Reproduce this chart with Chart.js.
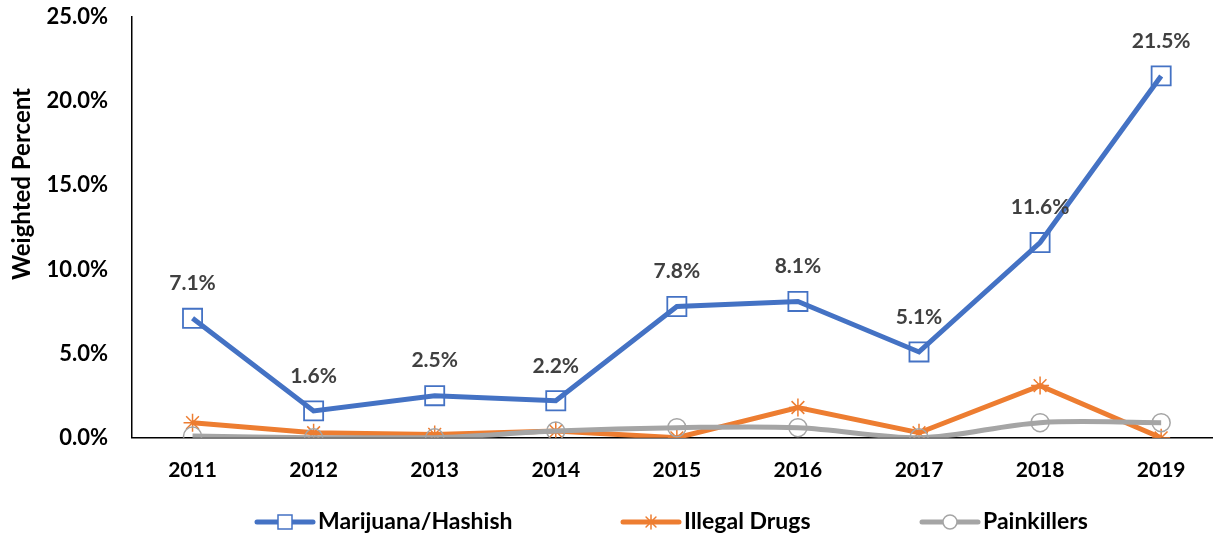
<!DOCTYPE html>
<html><head><meta charset="utf-8">
<script src="https://cdn.jsdelivr.net/npm/chart.js@4.4.0/dist/chart.umd.min.js"></script>
<style>html,body{margin:0;padding:0;background:#fff;overflow:hidden}#wrap{width:1237px;height:536px}</style>
</head><body><div id="wrap"><canvas id="c" width="1237" height="536"></canvas></div>
<script>
const years = ['2011','2012','2013','2014','2015','2016','2017','2018','2019'];
const marijuana = [7.1, 1.6, 2.5, 2.2, 7.8, 8.1, 5.1, 11.6, 21.5];
const illegalDrugs = [0.9, 0.3, 0.2, 0.4, 0.0, 1.8, 0.3, 3.1, 0.0];
const painkillers = [0.1, 0.0, 0.0, 0.4, 0.6, 0.6, 0.0, 0.9, 0.9];
const seriesNames = ['Marijuana/Hashish', 'Illegal Drugs', 'Painkillers'];
const yAxisTitle = 'Weighted Percent';

const FONT = 'Lato';
const BLUE = '#4472C4', ORANGE = '#ED7D31', GRAY = '#A5A5A5';

const dataLabels = {
  id: 'dataLabels',
  afterDatasetsDraw(chart) {
    const ctx = chart.ctx;
    const meta = chart.getDatasetMeta(0);
    ctx.save();
    ctx.font = 'bold 21px ' + FONT;
    ctx.fillStyle = '#404040';
    ctx.textAlign = 'center';
    ctx.textBaseline = 'middle';
    meta.data.forEach((p, i) => {
      ctx.fillText(marijuana[i].toFixed(1) + '%', p.x, p.y - 35);
    });
    ctx.restore();
  }
};

const axisTitle = {
  id: 'axisTitle',
  afterDraw(chart) {
    const ctx = chart.ctx;
    ctx.save();
    ctx.font = 'bold 24px ' + FONT;
    ctx.fillStyle = '#000';
    ctx.textAlign = 'center';
    ctx.textBaseline = 'middle';
    ctx.translate(22, 184);
    ctx.rotate(-Math.PI / 2);
    ctx.fillText(yAxisTitle, 0, 0);
    ctx.restore();
  }
};

function drawMarker(ctx, style, x, y, r, color) {
  ctx.save();
  ctx.strokeStyle = color;
  ctx.lineWidth = 1.5;
  ctx.beginPath();
  if (style === 'rect') {
    ctx.rect(x - r, y - r, 2 * r, 2 * r);
    ctx.fillStyle = '#fff';
    ctx.fill();
  } else if (style === 'circle') {
    ctx.arc(x, y, r, 0, Math.PI * 2);
    ctx.fillStyle = '#fff';
    ctx.fill();
  } else {
    for (let k = 0; k < 4; k++) {
      const a = k * Math.PI / 4;
      ctx.moveTo(x - r * Math.cos(a), y - r * Math.sin(a));
      ctx.lineTo(x + r * Math.cos(a), y + r * Math.sin(a));
    }
  }
  ctx.stroke();
  ctx.restore();
}

const legendPlugin = {
  id: 'customLegend',
  afterDraw(chart) {
    const ctx = chart.ctx;
    const starts = [257, 623, 922];
    const y = 522;
    ctx.save();
    chart.data.datasets.forEach((ds, i) => {
      const x0 = starts[i];
      ctx.strokeStyle = ds.borderColor;
      ctx.lineWidth = 5;
      ctx.lineCap = 'round';
      ctx.beginPath();
      ctx.moveTo(x0, y);
      ctx.lineTo(x0 + 56, y);
      ctx.stroke();
      drawMarker(ctx, ds.pointStyle, x0 + 28, y, 7, ds.borderColor);
      ctx.font = 'bold 23px ' + FONT;
      ctx.fillStyle = '#000';
      ctx.textAlign = 'left';
      ctx.textBaseline = 'middle';
      ctx.fillText(ds.label, x0 + 61, y);
    });
    ctx.restore();
  }
};

new Chart(document.getElementById('c'), {
  type: 'line',
  data: {
    labels: years,
    datasets: [
      { label: seriesNames[0], data: marijuana, borderColor: BLUE, backgroundColor: 'rgba(0,0,0,0)',
        borderWidth: 5, pointStyle: 'rect', pointRadius: 13.5, pointBorderWidth: 1.8,
        pointBorderColor: BLUE, pointBackgroundColor: 'rgba(0,0,0,0)', tension: 0, order: 3 },
      { label: seriesNames[1], data: illegalDrugs, borderColor: ORANGE, backgroundColor: 'rgba(0,0,0,0)',
        borderWidth: 5, pointStyle: 'star', pointRadius: 9, pointBorderWidth: 1.5,
        pointBorderColor: ORANGE, pointBackgroundColor: 'rgba(0,0,0,0)', tension: 0, order: 2 },
      { label: seriesNames[2], data: painkillers, borderColor: GRAY, backgroundColor: 'rgba(0,0,0,0)',
        borderWidth: 5, pointStyle: 'circle', pointRadius: 9, pointBorderWidth: 1.5,
        pointBorderColor: GRAY, pointBackgroundColor: 'rgba(0,0,0,0)', tension: 0.35, order: 1 }
    ]
  },
  options: {
    responsive: false,
    animation: false,
    events: [],
    layout: { padding: { left: 0, right: 1, top: 17, bottom: 33 } },
    plugins: { legend: { display: false }, tooltip: { enabled: false } },
    scales: {
      x: {
        offset: true,
        grid: { display: false, drawTicks: false, offset: true },
        border: { display: true, color: '#000', width: 1.5 },
        ticks: { color: '#000', padding: 20, font: { family: FONT, size: 21, weight: 'bold' } }
      },
      y: {
        min: 0, max: 25,
        afterFit(scale) { scale.width = 132; },
        grid: { display: true, drawOnChartArea: false, drawTicks: true, tickLength: 24, color: 'rgba(0,0,0,0)' },
        border: { display: true, color: '#000', width: 1.5 },
        ticks: { stepSize: 5, color: '#000', padding: 0,
          font: { family: FONT, size: 22, weight: 'bold' },
          callback: v => v.toFixed(1) + '%' }
      }
    }
  },
  plugins: [dataLabels, axisTitle, legendPlugin]
});
</script>
</body></html>
